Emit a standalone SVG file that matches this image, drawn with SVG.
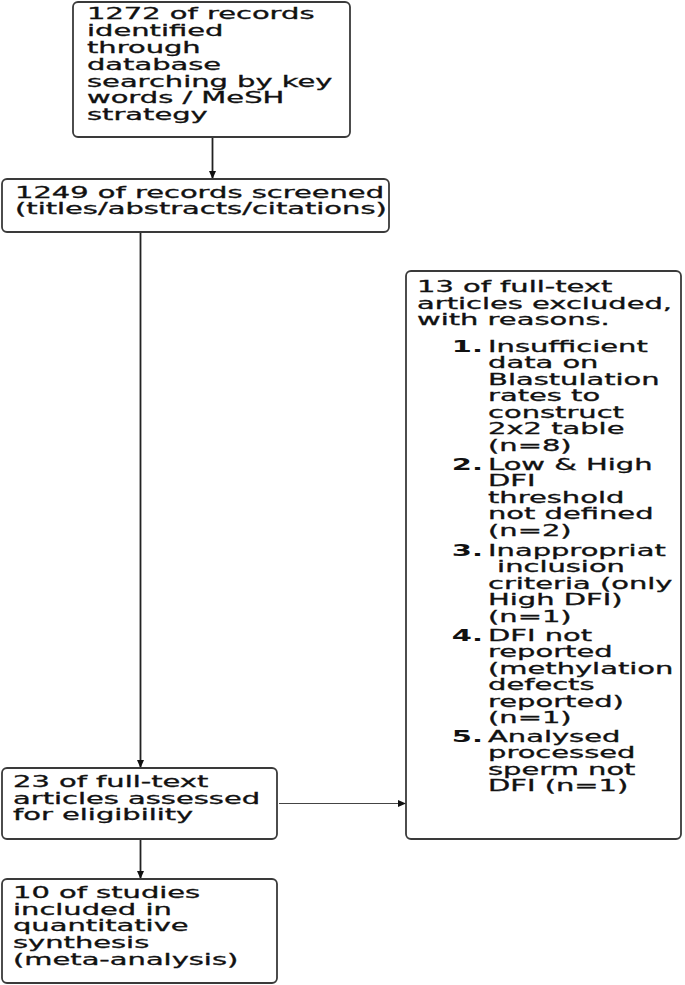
<svg xmlns="http://www.w3.org/2000/svg" width="685" height="985" viewBox="0 0 685 985">
<defs>
<style>
.box{fill:#fff;stroke:#3a3a3a;stroke-width:1.8}
.t{font-family:"DejaVu Sans","Liberation Sans",sans-serif;font-size:15px;fill:#111;stroke:#111;stroke-width:0.3}
.n{font-family:"DejaVu Sans","Liberation Sans",sans-serif;font-size:15px;font-weight:bold;fill:#111}
.c{fill:none;stroke:#222;stroke-width:1.8}
.ch{fill:none;stroke:#444;stroke-width:1.1}
</style>
<marker id="ah" markerUnits="userSpaceOnUse" markerWidth="8" markerHeight="8" refX="8" refY="4" orient="auto">
<path d="M0,0.5 L8,4 L0,7.5 z" fill="#111"/>
</marker>
</defs>
<rect width="685" height="985" fill="#fff"/>
<g id="connectors">
<line class="c" x1="212.5" y1="138" x2="212.5" y2="179" marker-end="url(#ah)"/>
<line class="c" x1="140.5" y1="232" x2="140.5" y2="768" marker-end="url(#ah)"/>
<line class="c" x1="140.5" y1="839" x2="140.5" y2="879" marker-end="url(#ah)"/>
<line class="ch" x1="279" y1="803.5" x2="406" y2="803.5" marker-end="url(#ah)"/>
</g>
<g id="identified">
<rect class="box" x="73" y="2" width="277" height="135" rx="5"/>
<text class="t" transform="translate(87 0) scale(1.93 1)"><tspan x="0" y="19.5">1272 of records</tspan><tspan x="0" y="36.3">identified</tspan><tspan x="0" y="53.1">through</tspan><tspan x="0" y="69.9">database</tspan><tspan x="0" y="86.7">searching by key</tspan><tspan x="0" y="103.5">words / MeSH</tspan><tspan x="0" y="120.3">strategy</tspan></text>
</g>
<g id="screened">
<rect class="box" x="2" y="179" width="387" height="53" rx="5"/>
<text class="t" transform="translate(15 0) scale(1.93 1)"><tspan x="0" y="198">1249 of records screened</tspan><tspan x="0" y="214.5">(titles/abstracts/citations)</tspan></text>
</g>
<g id="excluded">
<rect class="box" x="406" y="271" width="275" height="568" rx="5"/>
<text class="t" transform="translate(417 0) scale(1.93 1)"><tspan x="0" y="292.5">13 of full-text</tspan><tspan x="0" y="309">articles excluded,</tspan><tspan x="0" y="325.5">with reasons.</tspan><tspan x="36.8" y="352">Insufficient</tspan><tspan x="36.8" y="368.5">data on</tspan><tspan x="36.8" y="385">Blastulation</tspan><tspan x="36.8" y="401.5">rates to</tspan><tspan x="36.8" y="418">construct</tspan><tspan x="36.8" y="434.5">2x2 table</tspan><tspan x="36.8" y="451">(n=8)</tspan><tspan x="36.8" y="470">Low &amp; High</tspan><tspan x="36.8" y="486.5">DFI</tspan><tspan x="36.8" y="503">threshold</tspan><tspan x="36.8" y="519.5">not defined</tspan><tspan x="36.8" y="536">(n=2)</tspan><tspan x="36.8" y="556">Inappropriat</tspan><tspan x="41.5" y="572.5">inclusion</tspan><tspan x="36.8" y="589">criteria (only</tspan><tspan x="36.8" y="605.5">High DFI)</tspan><tspan x="36.8" y="622">(n=1)</tspan><tspan x="36.8" y="641">DFI not</tspan><tspan x="36.8" y="657.5">reported</tspan><tspan x="36.8" y="674">(methylation</tspan><tspan x="36.8" y="690.5">defects</tspan><tspan x="36.8" y="707">reported)</tspan><tspan x="36.8" y="723.5">(n=1)</tspan><tspan x="36.8" y="742">Analysed</tspan><tspan x="36.8" y="758.5">processed</tspan><tspan x="36.8" y="775">sperm not</tspan><tspan x="36.8" y="791.5">DFI (n=1)</tspan></text>
<text class="n" text-anchor="end" transform="translate(483 352) scale(1.93 1)">1.</text>
<text class="n" text-anchor="end" transform="translate(483 470) scale(1.93 1)">2.</text>
<text class="n" text-anchor="end" transform="translate(483 556) scale(1.93 1)">3.</text>
<text class="n" text-anchor="end" transform="translate(483 641) scale(1.93 1)">4.</text>
<text class="n" text-anchor="end" transform="translate(483 742) scale(1.93 1)">5.</text>
</g>
<g id="assessed">
<rect class="box" x="2" y="768" width="275" height="71" rx="5"/>
<text class="t" transform="translate(13 0) scale(1.93 1)"><tspan x="0" y="787.5">23 of full-text</tspan><tspan x="0" y="804">articles assessed</tspan><tspan x="0" y="820.5">for eligibility</tspan></text>
</g>
<g id="included">
<rect class="box" x="2" y="879" width="275" height="104" rx="5"/>
<text class="t" transform="translate(13 0) scale(1.93 1)"><tspan x="0" y="898">10 of studies</tspan><tspan x="0" y="914.7">included in</tspan><tspan x="0" y="931.4">quantitative</tspan><tspan x="0" y="948.1">synthesis</tspan><tspan x="0" y="964.8">(meta-analysis)</tspan></text>
</g>
</svg>
